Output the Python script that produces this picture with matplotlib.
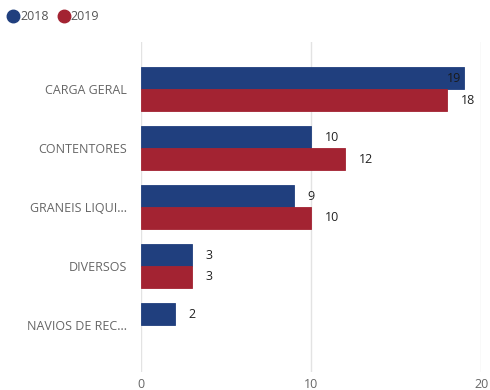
import matplotlib.pyplot as plt
from matplotlib.lines import Line2D
import numpy as np

categories = ["CARGA GERAL", "CONTENTORES", "GRANEIS LIQUI...", "DIVERSOS", "NAVIOS DE REC..."]
v2018 = [19, 10, 9, 3, 2]
v2019 = [18, 12, 10, 3, None]
series = ["2018", "2019"]
colors = ["#203F7E", "#A32332"]

plt.rcParams['font.family'] = ['Open Sans', 'DejaVu Sans']

fig = plt.figure(figsize=(4.9, 3.9), dpi=100)
ax = fig.add_axes([0.288, 0.046, 0.694, 0.846])

y = np.arange(len(categories))
h = 0.37
for vals, off, col in [(v2018, -h / 2, colors[0]), (v2019, h / 2, colors[1])]:
    for i, v in enumerate(vals):
        if v is None:
            continue
        ax.barh(y[i] + off, v, height=h, color=col, edgecolor=col, linewidth=0.6, zorder=2)
        if v >= 19:
            ax.text(v - 0.15, y[i] + off, str(v), ha='right', va='center', fontsize=9, color='#1a1a1a', zorder=3)
        else:
            ax.text(v + 0.8, y[i] + off, str(v), ha='left', va='center', fontsize=9, color='#222222', zorder=3)

ax.set_xlim(0, 20)
ax.set_ylim(4.8, -0.8)
ax.set_xticks([0, 10, 20])
ax.set_yticks(y)
ax.set_yticklabels(categories)
ax.tick_params(axis='both', length=0, labelsize=9, labelcolor='#666666')
ax.tick_params(axis='y', pad=10)
ax.tick_params(axis='x', pad=4)
ax.grid(axis='x', color='#e3e3e3', linewidth=1, zorder=0)
for s in ax.spines.values():
    s.set_visible(False)

# legend: circle marker + label for each series
ly = 1 - 16 / 390
for (mx, tx), name, col in zip([(13, 20), (64, 70)], series, colors):
    fig.add_artist(Line2D([mx / 490], [ly], marker='o', markersize=9, color=col,
                          linestyle='none', transform=fig.transFigure))
    fig.text(tx / 490, ly, name, color='#555555', fontsize=9, va='center', ha='left')

fig.savefig("out.png", dpi=100)
